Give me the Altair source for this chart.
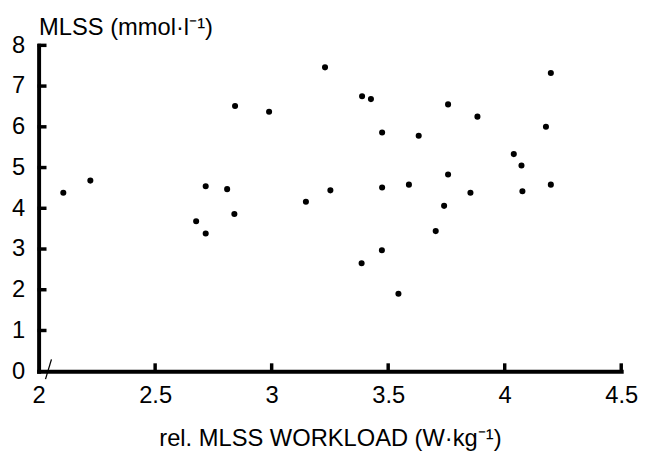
import altair as alt
import pandas as pd

# data
workload = [2.106, 2.222, 2.676, 2.717, 2.717, 2.809, 2.840, 2.843, 2.989, 3.147,
            3.229, 3.252, 3.386, 3.388, 3.426, 3.473, 3.474, 3.474, 3.544, 3.589,
            3.631, 3.704, 3.740, 3.757, 3.757, 3.853, 3.883, 4.039, 4.072, 4.076,
            4.177, 4.198, 4.198]
mlss = [4.38, 4.68, 3.68, 4.54, 3.38, 4.47, 3.86, 6.51, 6.37, 4.16,
        7.46, 4.44, 2.65, 6.75, 6.68, 2.97, 5.86, 4.51, 1.90, 4.58,
        5.78, 3.44, 4.06, 6.55, 4.83, 4.38, 6.25, 5.33, 5.05, 4.42,
        6.00, 7.32, 4.58]
x_ticks = [2, 2.5, 3, 3.5, 4, 4.5]
y_ticks = [0, 1, 2, 3, 4, 5, 6, 7, 8]
x_title = "rel. MLSS WORKLOAD (W·kg⁻¹)"
y_title = "MLSS (mmol·l⁻¹)"

df = pd.DataFrame({"workload": workload, "mlss": mlss})

FONT = "Liberation Sans"
INK = "black"
common = dict(
    grid=False,
    domain=True,
    domainColor=INK,
    domainWidth=4,
    domainCap="square",
    ticks=False,
    format="~g",
    labelFont=FONT,
    labelFontSize=24,
    labelColor="black",
    labelOverlap=False,
    labelFlush=False,
    titleFont=FONT,
    titleFontSize=24,
    titleFontWeight="normal",
    titleColor="black",
)

x_axis = alt.Axis(values=x_ticks, title=x_title, labelPadding=13,
                  titleY=75, titleBaseline="alphabetic", **common)
y_axis = alt.Axis(values=y_ticks, title=y_title, labelPadding=14,
                  titleAngle=0, titleAlign="left", titleX=0, titleY=-11,
                  titleBaseline="alphabetic", **common)

xs = alt.Scale(domain=[2, 4.5], nice=False, zero=False)
ys = alt.Scale(domain=[0, 8], nice=False)

points = alt.Chart(df).mark_circle(size=38, color="black", opacity=1).encode(
    x=alt.X("workload:Q", scale=xs, axis=x_axis),
    y=alt.Y("mlss:Q", scale=ys, axis=y_axis),
)

# inward tick marks
xt = alt.Chart(pd.DataFrame({"workload": x_ticks[1:]})).mark_rule(
    color=INK, strokeWidth=3.5).encode(
    x=alt.X("workload:Q", scale=xs), y=alt.value(331), y2=alt.value(322)
)
yt = alt.Chart(pd.DataFrame({"mlss": y_ticks[1:]})).mark_rule(
    color=INK, strokeWidth=3.5).encode(
    y=alt.Y("mlss:Q", scale=ys), x=alt.value(-1), x2=alt.value(8)
)

# axis-break mark near the origin
brk = alt.Chart(pd.DataFrame({"k": [0]})).mark_rule(color=INK, strokeWidth=1.3).encode(
    x=alt.value(7), x2=alt.value(13), y=alt.value(338), y2=alt.value(318)
)

chart = alt.layer(points, xt, yt, brk).properties(
    width=590, height=330,
    padding={"left": 31, "top": 35, "right": 18, "bottom": 80},
    autosize=alt.AutoSizeParams(type="none"),
    background="white",
).configure_view(stroke=None)

chart.save("out.html", embed_options={"renderer": "svg", "actions": False})
